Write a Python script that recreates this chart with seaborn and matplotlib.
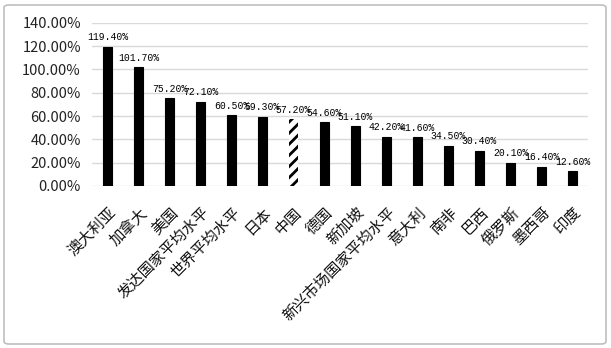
import matplotlib
matplotlib.use("Agg")
import matplotlib.pyplot as plt
import seaborn as sns
import pandas as pd
from matplotlib.patches import FancyBboxPatch
from matplotlib.ticker import FuncFormatter

countries = ["澳大利亚", "加拿大", "美国", "发达国家平均水平", "世界平均水平", "日本", "中国",
             "德国", "新加坡", "新兴市场国家平均水平", "意大利", "南非", "巴西", "俄罗斯",
             "墨西哥", "印度"]
values = [119.4, 101.7, 75.2, 72.1, 60.5, 59.3, 57.2, 54.6, 51.1, 42.2, 41.6, 34.5,
          30.4, 20.1, 16.4, 12.6]
highlight = "中国"

sns.set_theme(style="white")
plt.rcParams["font.family"] = ["Noto Sans CJK SC", "DejaVu Sans"]
plt.rcParams["hatch.linewidth"] = 2.0

df = pd.DataFrame({"country": countries, "value": values})

fig = plt.figure(figsize=(6.11, 3.48), dpi=100)
ax = fig.add_axes([92 / 611, 1 - 186 / 348, 496 / 611, (186 - 22.7) / 348])

sns.barplot(data=df, x="country", y="value", ax=ax, color="black", width=0.28,
            saturation=1, edgecolor="black", linewidth=0.8)

for patch, name in zip(ax.patches, countries):
    if name == highlight:
        patch.set_facecolor("white")
        patch.set_hatch("///")
        patch.set_edgecolor("black")
        patch.set_linewidth(0)

for i, v in enumerate(values):
    ax.text(i, v + 4, f"{v:.2f}%", ha="center", va="bottom", fontsize=7,
            family=["Liberation Mono", "DejaVu Sans Mono"], color="black")

ax.set_ylim(0, 140)
ax.set_xlim(-0.5, len(countries) - 0.5)
ax.set_yticks(range(0, 141, 20))
ax.yaxis.set_major_formatter(FuncFormatter(lambda v, _: f"{v:.2f}%"))
ax.grid(axis="y", color="#d9d9d9", linewidth=1)
ax.set_axisbelow(True)
for s in ax.spines.values():
    s.set_visible(False)
ax.tick_params(axis="both", length=0)
ax.tick_params(axis="y", labelsize=10.5, pad=8, colors="#222222")
ax.set_xlabel("")
ax.set_ylabel("")
ax.set_xticks(range(len(countries)))
ax.set_xticklabels(countries, rotation=45, ha="right", rotation_mode="anchor",
                   fontsize=11, color="#111111")
ax.tick_params(axis="x", pad=13)

fig.patches.append(FancyBboxPatch((4 / 611, 4 / 348), 602 / 611, 339 / 348,
                                  boxstyle="round,pad=0,rounding_size=0.008",
                                  transform=fig.transFigure, fill=False,
                                  edgecolor="#bfbfbf", linewidth=1.2))

fig.savefig("out.png", dpi=100)
